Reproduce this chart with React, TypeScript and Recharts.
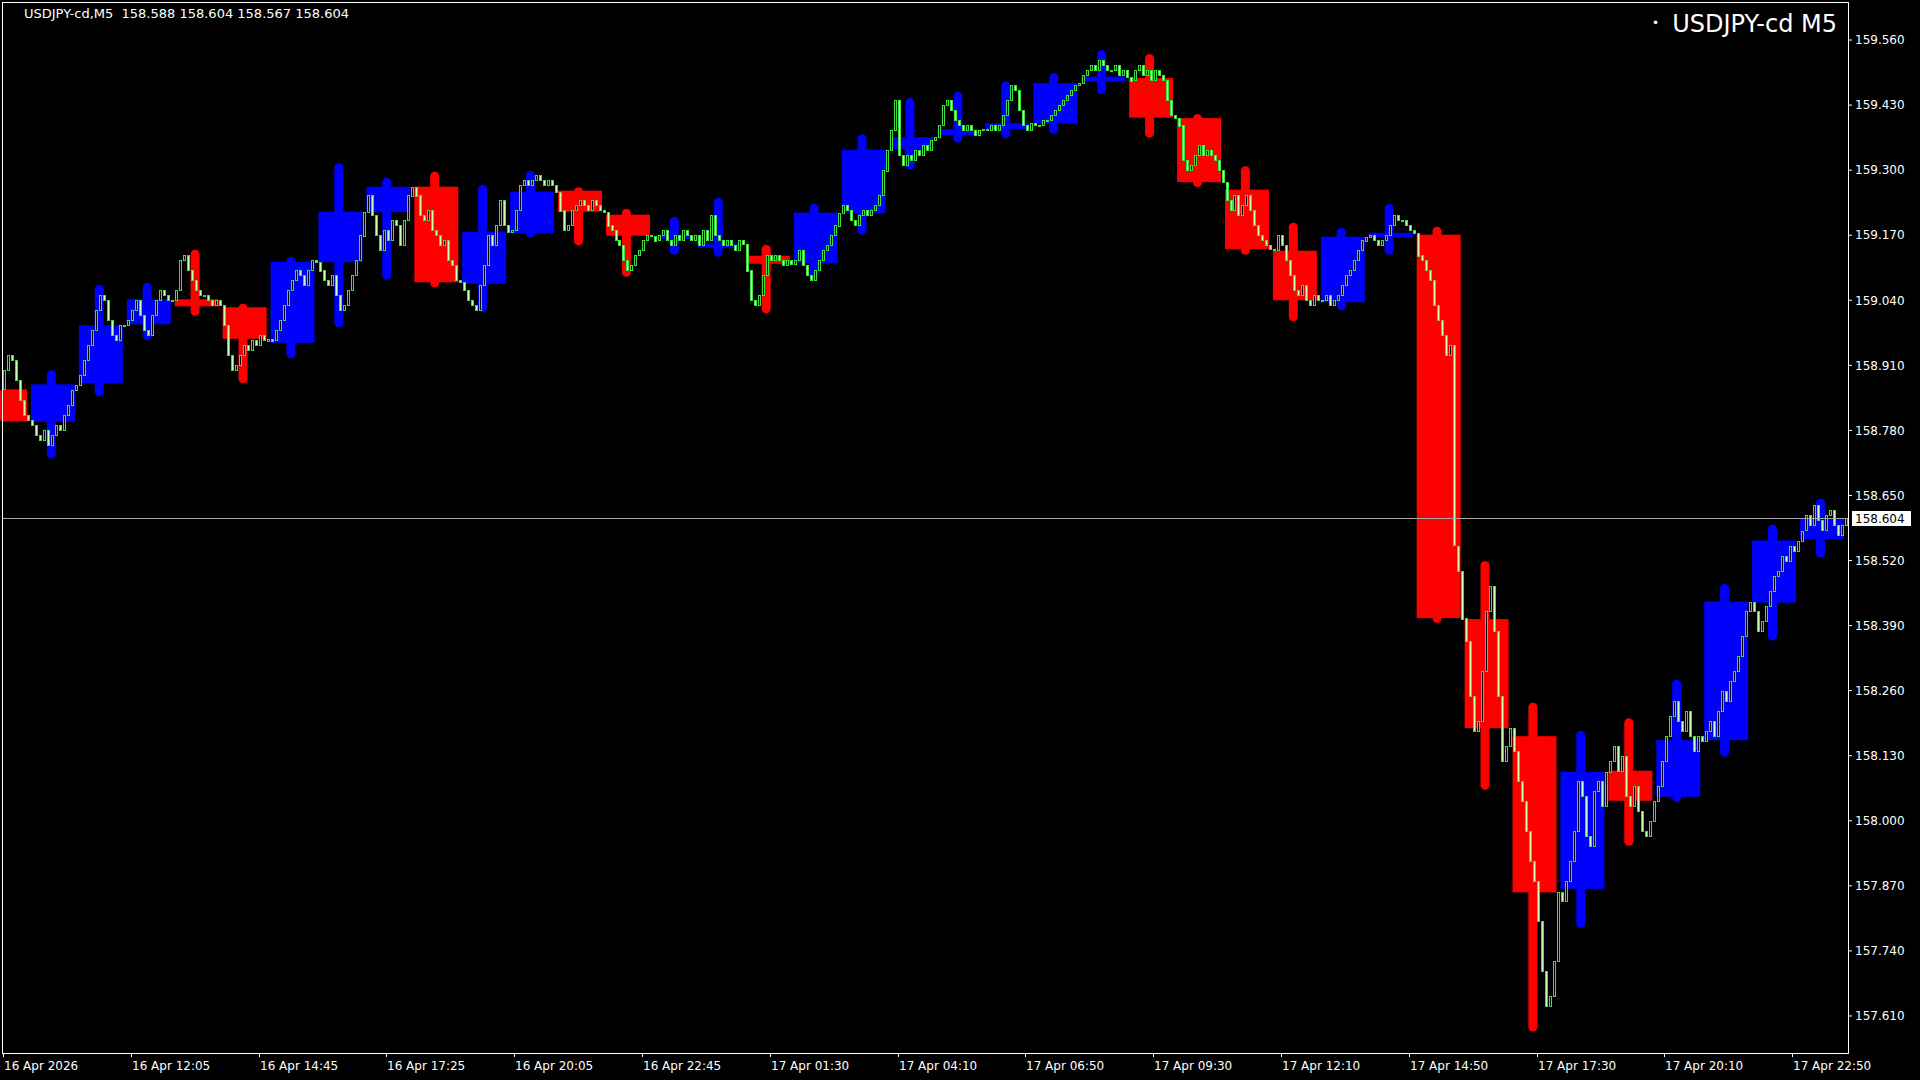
import { ComposedChart, Bar, XAxis, YAxis, ReferenceLine } from 'recharts'

const symbol = 'USDJPY-cd'
const period = 'M5'
const lastBarOHLC = [158.588, 158.604, 158.567, 158.604]
const lastPrice = 158.604

const priceTicks = [
  157.61, 157.74, 157.87, 158.0, 158.13, 158.26, 158.39, 158.52,
  158.65, 158.78, 158.91, 159.04, 159.17, 159.3, 159.43, 159.56,
]

// one label every 32 M5 bars
const timeLabels = [
  '16 Apr 2026', '16 Apr 12:05', '16 Apr 14:45', '16 Apr 17:25', '16 Apr 20:05',
  '16 Apr 22:45', '17 Apr 01:30', '17 Apr 04:10', '17 Apr 06:50', '17 Apr 09:30',
  '17 Apr 12:10', '17 Apr 14:50', '17 Apr 17:30', '17 Apr 20:10', '17 Apr 22:50',
]

// hourly candles drawn behind the M5 bars (16 Apr 09:00 .. 17 Apr 23:00)
const h1Open = [
  158.862, 158.797, 158.874, 158.992, 159.042, 159.026, 158.955, 159.116, 159.216, 159.267,
  159.073, 159.174, 159.259, 159.211, 159.163, 159.145, 159.129, 159.114, 159.214, 159.342,
  159.370, 159.382, 159.393, 159.477, 159.484, 159.404, 159.261, 159.139, 159.036, 159.166,
  159.171, 158.403, 158.169, 157.864, 158.100, 158.048, 158.161, 158.436, 158.563,
]
const h1High = [
  158.862, 158.900, 159.071, 159.075, 159.141, 159.033, 159.127, 159.314, 159.285, 159.297,
  159.271, 159.299, 159.266, 159.223, 159.207, 159.245, 159.151, 159.233, 159.372, 159.444,
  159.457, 159.477, 159.494, 159.540, 159.532, 159.412, 159.308, 159.195, 159.185, 159.233,
  159.187, 158.519, 158.236, 158.180, 158.205, 158.282, 158.473, 158.592, 158.644,
]
const h1Low = [
  158.798, 158.724, 158.848, 158.960, 159.009, 158.874, 158.924, 158.986, 159.081, 159.066,
  159.016, 159.165, 159.150, 159.087, 159.131, 159.127, 159.014, 159.079, 159.171, 159.301,
  159.355, 159.364, 159.372, 159.452, 159.365, 159.266, 159.131, 158.998, 159.020, 159.131,
  158.395, 158.062, 157.579, 157.786, 157.950, 158.038, 158.128, 158.360, 158.526,
]
const h1Close = [
  158.798, 158.872, 158.990, 159.042, 159.028, 158.963, 159.117, 159.217, 159.267, 159.076,
  159.177, 159.257, 159.217, 159.169, 159.170, 159.153, 159.113, 159.215, 159.341, 159.366,
  159.382, 159.394, 159.474, 159.487, 159.405, 159.276, 159.142, 159.040, 159.167, 159.175,
  158.405, 158.185, 157.857, 158.098, 158.040, 158.161, 158.438, 158.560, 158.604,
]

// M5 closes, one row per hour
const m5Close = [
  [158.90, 158.93, 158.92, 158.88, 158.84, 158.81, 158.80],
  [158.79, 158.77, 158.76, 158.78, 158.75, 158.77, 158.79, 158.78, 158.81, 158.83, 158.86, 158.87],
  [158.89, 158.92, 158.95, 158.98, 159.02, 159.05, 159.04, 159.00, 158.97, 158.96, 158.99, 158.99],
  [159.00, 159.02, 159.04, 159.01, 158.98, 158.97, 159.01, 159.04, 159.06, 159.05, 159.04, 159.04],
  [159.06, 159.12, 159.13, 159.10, 159.08, 159.06, 159.05, 159.05, 159.04, 159.03, 159.04, 159.03],
  [158.99, 158.93, 158.90, 158.91, 158.93, 158.95, 158.94, 158.96, 158.95, 158.97, 158.96, 158.963],
  [158.96, 158.98, 159.00, 159.03, 159.06, 159.08, 159.10, 159.09, 159.07, 159.10, 159.12, 159.117],
  [159.10, 159.08, 159.07, 159.09, 159.05, 159.02, 159.03, 159.06, 159.09, 159.12, 159.17, 159.217],
  [159.25, 159.21, 159.17, 159.14, 159.18, 159.16, 159.20, 159.19, 159.15, 159.20, 159.25, 159.267],
  [159.25, 159.21, 159.20, 159.22, 159.18, 159.17, 159.15, 159.16, 159.12, 159.11, 159.08, 159.076],
  [159.06, 159.04, 159.03, 159.02, 159.07, 159.11, 159.17, 159.15, 159.19, 159.24, 159.19, 159.177],
  [159.18, 159.22, 159.27, 159.28, 159.27, 159.28, 159.29, 159.28, 159.27, 159.28, 159.27, 159.257],
  [159.22, 159.18, 159.19, 159.22, 159.23, 159.24, 159.23, 159.22, 159.24, 159.23, 159.22, 159.217],
  [159.19, 159.18, 159.16, 159.15, 159.12, 159.10, 159.11, 159.13, 159.14, 159.16, 159.17, 159.169],
  [159.16, 159.17, 159.18, 159.16, 159.15, 159.17, 159.16, 159.18, 159.17, 159.16, 159.170],
  [159.15, 159.18, 159.16, 159.21, 159.17, 159.16, 159.15, 159.16, 159.15, 159.14, 159.16, 159.153],
  [159.10, 159.04, 159.03, 159.05, 159.09, 159.13, 159.12, 159.13, 159.12, 159.11, 159.12, 159.113],
  [159.12, 159.14, 159.11, 159.09, 159.08, 159.10, 159.12, 159.14, 159.15, 159.17, 159.19, 159.215],
  [159.23, 159.22, 159.20, 159.19, 159.21, 159.22, 159.21, 159.22, 159.23, 159.25, 159.30, 159.341],
  [159.38, 159.44, 159.33, 159.31, 159.33, 159.32, 159.34, 159.33, 159.35, 159.34, 159.36, 159.366],
  [159.39, 159.43, 159.44, 159.42, 159.40, 159.39, 159.38, 159.39, 159.38, 159.37, 159.38, 159.382],
  [159.38, 159.39, 159.38, 159.39, 159.41, 159.44, 159.47, 159.46, 159.42, 159.39, 159.38, 159.394],
  [159.39, 159.39, 159.40, 159.40, 159.41, 159.42, 159.43, 159.44, 159.45, 159.46, 159.47, 159.474],
  [159.49, 159.50, 159.51, 159.50, 159.52, 159.51, 159.50, 159.50, 159.51, 159.49, 159.50, 159.487],
  [159.48, 159.50, 159.51, 159.49, 159.50, 159.48, 159.50, 159.49, 159.48, 159.44, 159.41, 159.405],
  [159.39, 159.32, 159.30, 159.31, 159.33, 159.35, 159.33, 159.34, 159.33, 159.32, 159.30, 159.276],
  [159.24, 159.22, 159.25, 159.21, 159.23, 159.25, 159.22, 159.19, 159.17, 159.16, 159.15, 159.142],
  [159.14, 159.17, 159.15, 159.12, 159.09, 159.06, 159.05, 159.07, 159.04, 159.03, 159.05, 159.040],
  [159.04, 159.05, 159.03, 159.04, 159.05, 159.07, 159.09, 159.10, 159.12, 159.14, 159.16, 159.167],
  [159.17, 159.16, 159.15, 159.16, 159.17, 159.19, 159.21, 159.20, 159.20, 159.19, 159.18, 159.175],
  [159.13, 159.12, 159.10, 159.08, 159.03, 159.00, 158.97, 158.93, 158.95, 158.55, 158.50, 158.405],
  [158.36, 158.25, 158.18, 158.20, 158.30, 158.42, 158.47, 158.38, 158.25, 158.12, 158.15, 158.185],
  [158.14, 158.08, 158.04, 157.98, 157.92, 157.88, 157.80, 157.70, 157.63, 157.65, 157.72, 157.857],
  [157.84, 157.88, 157.92, 157.98, 158.08, 158.05, 157.97, 157.95, 158.06, 158.08, 158.03, 158.098],
  [158.12, 158.15, 158.10, 158.13, 158.05, 158.03, 158.07, 158.02, 157.98, 157.97, 158.00, 158.040],
  [158.07, 158.12, 158.17, 158.21, 158.24, 158.20, 158.18, 158.22, 158.17, 158.14, 158.17, 158.161],
  [158.18, 158.20, 158.17, 158.22, 158.26, 158.24, 158.28, 158.30, 158.33, 158.37, 158.42, 158.438],
  [158.42, 158.38, 158.40, 158.43, 158.46, 158.49, 158.50, 158.53, 158.52, 158.55, 158.54, 158.560],
  [158.58, 158.61, 158.59, 158.63, 158.60, 158.58, 158.61, 158.62, 158.59, 158.57, 158.59, 158.604],
]

const W = 1920
const H = 1080
const PLOT_LEFT = 3
const PLOT_TOP = 2
const AXIS_W = 72
const AXIS_H = 27
const PLOT_RIGHT = W - AXIS_W
const PLOT_BOTTOM = H - AXIS_H
const FONT = '"DejaVu Sans", Verdana, sans-serif'

type Row = {
  i: number
  o: number
  c: number
  body: [number, number]
  h1Range?: [number, number]
  h1O?: number
  h1H?: number
  h1L?: number
  h1C?: number
  h1Lead?: number
}

const rows: Row[] = []
m5Close.forEach((hour, k) => {
  hour.forEach((c, j) => {
    const o = rows.length ? rows[rows.length - 1].c : h1Open[0]
    const row: Row = { i: rows.length, o, c, body: [Math.min(o, c), Math.max(o, c)] }
    if (j === 0) {
      row.h1Range = [h1Low[k], h1High[k]]
      row.h1O = h1Open[k]
      row.h1H = h1High[k]
      row.h1L = h1Low[k]
      row.h1C = h1Close[k]
      // the first hour is cut by the left edge of the window
      row.h1Lead = k === 0 ? 12 - hour.length : 0
    }
    rows.push(row)
  })
})

const BW = (PLOT_RIGHT - PLOT_LEFT) / rows.length

function H1Candle(props: any) {
  const { x, y, height, payload } = props
  if (!payload || payload.h1O == null || !isFinite(y) || !isFinite(height)) return null
  const { h1O, h1H, h1L, h1C, h1Lead } = payload as Required<Row>
  const k = height / (h1H - h1L || 1)
  const yOf = (v: number) => y + (h1H - v) * k
  const left = x - h1Lead * BW
  const bodyL = Math.max(left, PLOT_LEFT)
  const bodyR = left + 11 * BW
  const color = h1C >= h1O ? '#0000ff' : '#ff0000'
  const top = yOf(Math.max(h1O, h1C))
  const bot = yOf(Math.min(h1O, h1C))
  const wx = left + 5.1 * BW
  return (
    <g>
      <rect x={wx - 4.5} y={y} width={9} height={Math.max(height, 9)} rx={4.5} fill={color} />
      <rect x={bodyL} y={top} width={bodyR - bodyL} height={Math.max(bot - top, 2)} fill={color} />
    </g>
  )
}

function M5Candle(props: any) {
  const { x, y, height, payload } = props
  if (!payload || !isFinite(y)) return null
  const px = Math.round(x + BW / 2 - 1.5)
  const up = payload.c >= payload.o
  const h = Math.max(height, 1)
  return (
    <rect
      x={px + 0.5}
      y={Math.round(y) + 0.5}
      width={2}
      height={Math.max(Math.round(h), 1)}
      fill={up ? '#000000' : '#c8ffb0'}
      stroke="#3ee03e"
      strokeWidth={1}
    />
  )
}

function TimeTick(props: any) {
  const { x, payload } = props
  const left = Math.round(x - BW / 2)
  const label = timeLabels[Math.round(Number(payload.value) / 32)]
  return (
    <g>
      <line x1={left + 0.5} x2={left + 0.5} y1={PLOT_BOTTOM} y2={PLOT_BOTTOM + 4} stroke="#ffffff" />
      <text x={left + 1} y={PLOT_BOTTOM + 17} fill="#ffffff" fontSize={12} fontFamily={FONT}>
        {label}
      </text>
    </g>
  )
}

function PriceTag(props: any) {
  const vb = props.viewBox
  if (!vb) return null
  const y = vb.y
  const x = vb.x + vb.width + 4
  return (
    <g>
      <rect x={x} y={y - 7.5} width={59} height={15} fill="#ffffff" />
      <text x={x + 3} y={y + 4.5} fill="#000000" fontSize={12} fontFamily={FONT}>
        {lastPrice.toFixed(3)}
      </text>
    </g>
  )
}

export default function App() {
  return (
    <div style={{ position: 'relative', width: W, height: H, background: '#000', fontFamily: FONT }}>
      <style>{'body{margin:0;background:#000}'}</style>
      <ComposedChart
        width={W}
        height={H}
        data={rows}
        margin={{ top: PLOT_TOP, right: 0, bottom: 0, left: PLOT_LEFT }}
        barCategoryGap={0}
        barGap={0}
      >
        <XAxis
          xAxisId="m5"
          dataKey="i"
          type="category"
          height={AXIS_H}
          interval={31}
          axisLine={false}
          tickLine={false}
          tick={<TimeTick />}
        />
        <XAxis xAxisId="h1" dataKey="i" type="category" hide />
        <YAxis
          orientation="right"
          width={AXIS_W}
          domain={[157.536, 159.636]}
          allowDataOverflow
          ticks={priceTicks}
          interval={0}
          tickFormatter={(v: number) => v.toFixed(3)}
          tick={{ fill: '#ffffff', fontSize: 12, fontFamily: FONT }}
          tickLine={{ stroke: '#ffffff' }}
          tickSize={4}
          tickMargin={3}
          axisLine={false}
        />
        <Bar xAxisId="h1" dataKey="h1Range" shape={<H1Candle />} isAnimationActive={false} />
        <Bar xAxisId="m5" dataKey="body" shape={<M5Candle />} isAnimationActive={false} />
        <ReferenceLine xAxisId="m5" y={lastPrice} stroke="#a8a8a8" strokeWidth={1} label={<PriceTag />} />
      </ComposedChart>
      <div
        style={{
          position: 'absolute',
          left: 2,
          top: 2,
          width: PLOT_RIGHT - 2 + 1,
          height: PLOT_BOTTOM - 2 + 1,
          border: '1px solid #ffffff',
          boxSizing: 'border-box',
          pointerEvents: 'none',
        }}
      />
      <div
        style={{
          position: 'absolute',
          left: 24,
          top: 7,
          color: '#ffffff',
          fontSize: 13,
          lineHeight: '13px',
          whiteSpace: 'pre',
        }}
      >
        {`${symbol},${period}  ${lastBarOHLC.map((v) => v.toFixed(3)).join(' ')}`}
      </div>
      <div
        style={{
          position: 'absolute',
          right: W - 1837,
          top: 12,
          color: '#ffffff',
          fontSize: 24,
          lineHeight: '24px',
          whiteSpace: 'pre',
        }}
      >
        <span style={{ fontSize: 12, position: 'relative', top: -5, marginRight: 13 }}>•</span>
        {`${symbol} ${period}`}
      </div>
    </div>
  )
}
